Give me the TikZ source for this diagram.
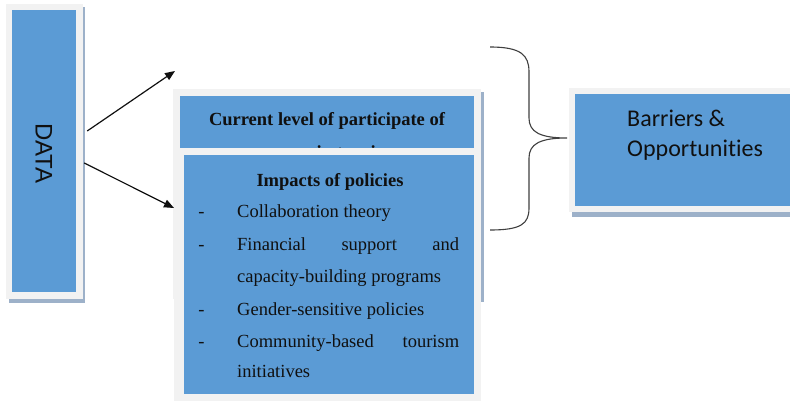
\documentclass[tikz,border=0pt]{standalone}
\usepackage{fontspec}
\setmainfont{Liberation Serif}
\newfontfamily\calib[Ligatures=NoCommon]{Carlito}
\newfontfamily\arialf{Liberation Sans}
\usetikzlibrary{arrows.meta,calc}
\definecolor{boxblue}{HTML}{5B9BD5}
\definecolor{framegrey}{HTML}{F2F2F2}
\definecolor{shadowc}{HTML}{9DB1C9}
\definecolor{inkc}{HTML}{101010}
\begin{document}
\begin{tikzpicture}[x=1pt,y=-1pt,
  bluebox/.style={fill=boxblue, inner sep=0pt, draw=none},
  framebox/.style={fill=framegrey},
  shadowbox/.style={fill=shadowc},
  txt/.style={inner sep=0pt, text=inkc},
  sertxt/.style={txt, font=\fontsize{18.5}{32}\selectfont},
  boldtxt/.style={txt, font=\bfseries\fontsize{18.5}{32}\selectfont},
  arr/.style={-{Triangle[length=10pt,width=8pt]}, line width=1.2pt, draw=inkc},
  bracestyle/.style={line width=1.1pt, draw=inkc!80}
]
\useasboundingbox (0,0) rectangle (790,401);
\fill[white] (0,0) rectangle (790,401);

% DATA box
\fill[shadowbox] (9,7) rectangle (85,303);
\fill[framebox] (6,4) rectangle (83,299);
\node[bluebox, minimum width=64pt, minimum height=282pt] (data) at (44,151) {};
\node[txt, rotate=-90, font=\arialf\fontsize{24}{28}\selectfont] (datatxt) at (44,153.5) {DATA};

% Current level box
\fill[shadowbox] (176,92) rectangle (484,302);
\fill[framebox] (173,89) rectangle (481,299);
\node[bluebox, minimum width=294pt, minimum height=196pt] (current) at (327,194) {};
\node[boldtxt, anchor=base] (curtxt) at (327,126) {Current level of participate of};
\node[boldtxt, anchor=base] (curtxtb) at (327,158) {women in tourism};

% Impacts box
\fill[framebox] (174,148) rectangle (481,401);
\node[bluebox, minimum width=290pt, minimum height=239pt] (impacts) at (329,274.5) {};
\node[boldtxt, anchor=base] (imptitle) at (330,186) {Impacts of policies};

\node[sertxt, anchor=base] (d1) at (201.5,217) {-};
\node[sertxt, anchor=base] (d2) at (201.5,250) {-};
\node[sertxt, anchor=base] (d3) at (201.5,315) {-};
\node[sertxt, anchor=base] (d4) at (201.5,347) {-};

\node[sertxt, anchor=base west] (i1) at (237,217) {Collaboration theory};
\node[sertxt, anchor=base west] (i2a) at (237,250) {\makebox[222pt][s]{Financial support and}};
\node[sertxt, anchor=base west] (i2b) at (237,282) {capacity-building programs};
\node[sertxt, anchor=base west] (i3) at (237,315) {Gender-sensitive policies};
\node[sertxt, anchor=base west] (i4a) at (237,347) {\makebox[222pt][s]{Community-based tourism}};
\node[sertxt, anchor=base west] (i4b) at (237,377) {initiatives};

% Barriers box
\fill[shadowbox] (572,91) rectangle (795,217);
\fill[framebox] (569,88) rectangle (792,212);
\node[bluebox, minimum width=220pt, minimum height=112pt] (barriers) at (685,150) {};
\node[txt, anchor=base west, font=\calib\fontsize{24}{30}\selectfont] (bartxt) at (627,127) {Barriers \&};
\node[txt, anchor=base west, font=\calib\fontsize{24}{30}\selectfont] (bartxtb) at (627,157) {Opportunities};

% arrows
\coordinate (tip1) at (175,71);
\coordinate (tip2) at (174,208);
\draw[arr] ([shift={(11,-20)}]data.east) -- (tip1);
\draw[arr] ([shift={(8,12)}]data.east) -- (tip2);

% brace
\coordinate (btop) at (490,47);
\coordinate (btip) at (567,138);
\coordinate (bbot) at (490,230);
\draw[bracestyle] (btop) .. controls (521,47) and (529,55) .. (529,72) -- (529,118)
  .. controls (529,132) and (540,138) .. (btip)
  .. controls (540,138) and (529,144) .. (529,158) -- (529,208)
  .. controls (529,224) and (521,230) .. (bbot);
\end{tikzpicture}
\end{document}
